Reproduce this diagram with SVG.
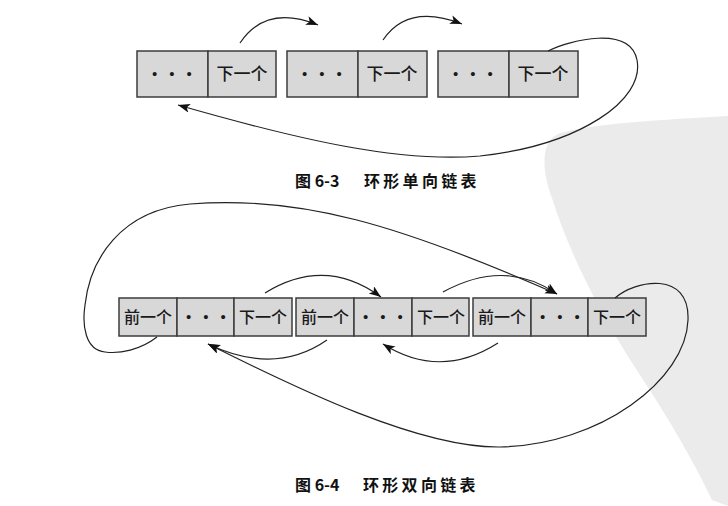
<svg xmlns="http://www.w3.org/2000/svg" width="728" height="506" viewBox="0 0 728 506">
  <style>
    .cell { fill: #d8d8d8; stroke: #3c3c3c; stroke-width: 1.5; }
    .lbl { font-family: "Noto Sans CJK SC", "Noto Sans", sans-serif; font-weight: 500; fill: #1a1a1a; text-anchor: middle; }
    .dots { font-family: "Liberation Sans", sans-serif; font-size: 15px; fill: #1a1a1a; text-anchor: middle; letter-spacing: 12px; }
    .cap { font-family: "Noto Sans CJK SC", "Liberation Sans", sans-serif; font-weight: bold; font-size: 16px; fill: #111; }
    .link { fill: none; stroke: #222; stroke-width: 1.2; }
    .arrow { marker-end: url(#head); }
  </style>
  <defs>
    <marker id="head" markerUnits="userSpaceOnUse" markerWidth="14" markerHeight="10" refX="12" refY="4.5" orient="auto">
      <path d="M0,0 L12,4.5 L0,9 L3,4.5 Z" fill="#111"/>
    </marker>
  </defs>

  <rect width="728" height="506" fill="#ffffff"/>

  <!-- background seal shape on the right -->
  <path d="M728,116 C660,120 585,124 558,134 C540,142 542,172 552,198 C568,250 600,315 642,378 C668,418 692,458 712,500 L728,506 Z" fill="#ebebeb"/>

  <!-- singly linked circular list -->
  <g id="s-node1">
    <rect class="cell" x="137" y="51" width="71" height="46"/>
    <rect class="cell" x="208" y="51" width="68" height="46"/>
    <text class="dots" x="178" y="79">•••</text>
    <text class="lbl" x="242" y="80" font-size="17">下一个</text>
  </g>
  <g id="s-node2">
    <rect class="cell" x="287" y="51" width="71" height="46"/>
    <rect class="cell" x="358" y="51" width="69" height="46"/>
    <text class="dots" x="328" y="79">•••</text>
    <text class="lbl" x="392" y="80" font-size="17">下一个</text>
  </g>
  <g id="s-node3">
    <rect class="cell" x="438" y="51" width="71" height="46"/>
    <rect class="cell" x="509" y="51" width="69" height="46"/>
    <text class="dots" x="479" y="79">•••</text>
    <text class="lbl" x="543" y="80" font-size="17">下一个</text>
  </g>

  <g id="s-links">
    <path class="link arrow" d="M240,43 Q266,4 318,25"/>
    <path class="link arrow" d="M383,40 Q408,3 462,24"/>
    <path class="link arrow" d="M548,51 C570,40 630,25 637,60 C645,100 580,145 480,156 C400,163 300,140 178,105"/>
  </g>

  <g id="caption-1">
    <text class="cap" x="295" y="187">图 6-3</text>
    <text class="cap" x="364" y="187" letter-spacing="3.3">环形单向链表</text>
  </g>

  <!-- doubly linked circular list -->
  <g id="d-node1">
    <rect class="cell" x="119" y="298" width="58" height="38"/>
    <rect class="cell" x="177" y="298" width="57" height="38"/>
    <rect class="cell" x="234" y="298" width="58" height="38"/>
    <text class="lbl" x="148" y="323" font-size="16">前一个</text>
    <text class="dots" x="212" y="322">•••</text>
    <text class="lbl" x="263" y="323" font-size="16">下一个</text>
  </g>
  <g id="d-node2">
    <rect class="cell" x="296" y="298" width="58" height="38"/>
    <rect class="cell" x="354" y="298" width="58" height="38"/>
    <rect class="cell" x="412" y="298" width="57" height="38"/>
    <text class="lbl" x="325" y="323" font-size="16">前一个</text>
    <text class="dots" x="389" y="322">•••</text>
    <text class="lbl" x="441" y="323" font-size="16">下一个</text>
  </g>
  <g id="d-node3">
    <rect class="cell" x="473" y="298" width="58" height="38"/>
    <rect class="cell" x="531" y="298" width="57" height="38"/>
    <rect class="cell" x="588" y="298" width="58" height="38"/>
    <text class="lbl" x="502" y="323" font-size="16">前一个</text>
    <text class="dots" x="566" y="322">•••</text>
    <text class="lbl" x="617" y="323" font-size="16">下一个</text>
  </g>

  <g id="d-links">
    <path class="link arrow" d="M265,293 Q325,256 381,297"/>
    <path class="link arrow" d="M443,292 Q505,258 557,294"/>
    <path class="link arrow" d="M157,337 C140,350 120,354 105,352 C85,350 82,325 85,305 C90,260 120,210 190,204 C300,195 400,225 557,294"/>
    <path class="link arrow" d="M327,340 Q275,376 208,344"/>
    <path class="link arrow" d="M498,343 Q440,380 383,344"/>
    <path class="link arrow" d="M615,298 C635,280 690,270 688,320 C686,380 600,445 500,447 C420,448 300,390 208,344"/>
  </g>

  <g id="caption-2">
    <text class="cap" x="295" y="491">图 6-4</text>
    <text class="cap" x="363" y="491" letter-spacing="3.3">环形双向链表</text>
  </g>
</svg>
